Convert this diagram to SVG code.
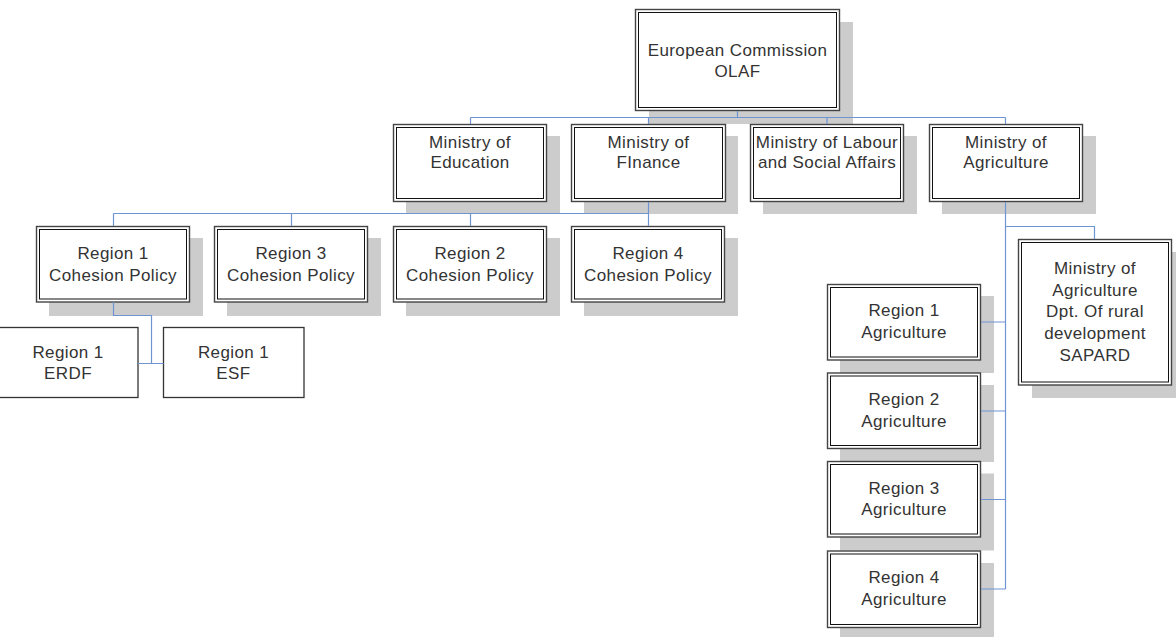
<svg xmlns="http://www.w3.org/2000/svg" width="1176" height="637" viewBox="0 0 1176 637">
<style>
.sh{fill:#cccccc}
.ob{fill:#fff;stroke:#444;stroke-width:1.4}
.ib{fill:none;stroke:#111;stroke-width:1}
.sb{fill:#fff;stroke:#333;stroke-width:1.3}
.t{font-family:"Liberation Sans",Arial,sans-serif;font-size:17px;fill:#333;text-anchor:middle;letter-spacing:0.4px}
.c{fill:none;stroke:#6f94d2;stroke-width:1.2}
</style>
<rect width="1176" height="637" fill="#fff"/>
<g id="ec">
<rect class="sh" x="649" y="22" width="204" height="102"/>
<rect class="ob" x="635.5" y="9.5" width="204" height="101"/>
<rect class="ib" x="638.5" y="12.5" width="198" height="95"/>
<text class="t" x="737.5" y="55.5">European Commission</text>
<text class="t" x="737.5" y="77">OLAF</text>
</g>
<g id="min-education">
<rect class="sh" x="406" y="136" width="154" height="78"/>
<rect class="ob" x="393.5" y="124.5" width="153" height="77"/>
<rect class="ib" x="396.5" y="127.5" width="147" height="71"/>
<text class="t" x="470" y="147.5">Ministry of</text>
<text class="t" x="470" y="167.5">Education</text>
</g>
<g id="min-finance">
<rect class="sh" x="584" y="136" width="154" height="78"/>
<rect class="ob" x="571.5" y="124.5" width="154" height="77"/>
<rect class="ib" x="574.5" y="127.5" width="148" height="71"/>
<text class="t" x="648.5" y="147.5">Ministry of</text>
<text class="t" x="648.5" y="167.5">FInance</text>
</g>
<g id="min-labour">
<rect class="sh" x="763" y="136" width="154" height="78"/>
<rect class="ob" x="750.5" y="124.5" width="153" height="77"/>
<rect class="ib" x="753.5" y="127.5" width="147" height="71"/>
<text class="t" x="827" y="147.5">Ministry of Labour</text>
<text class="t" x="827" y="167.5">and Social Affairs</text>
</g>
<g id="min-agriculture">
<rect class="sh" x="942" y="136" width="154" height="78"/>
<rect class="ob" x="929.5" y="124.5" width="153" height="77"/>
<rect class="ib" x="932.5" y="127.5" width="147" height="71"/>
<text class="t" x="1006" y="147.5">Ministry of</text>
<text class="t" x="1006" y="167.5">Agriculture</text>
</g>
<g id="r1-cohesion">
<rect class="sh" x="49" y="238" width="154" height="78"/>
<rect class="ob" x="36.5" y="226.5" width="153" height="75.5"/>
<rect class="ib" x="39.5" y="229.5" width="147" height="69.5"/>
<text class="t" x="113" y="259">Region 1</text>
<text class="t" x="113" y="280.5">Cohesion Policy</text>
</g>
<g id="r3-cohesion">
<rect class="sh" x="227" y="238" width="154" height="78"/>
<rect class="ob" x="214.5" y="226.5" width="153" height="75.5"/>
<rect class="ib" x="217.5" y="229.5" width="147" height="69.5"/>
<text class="t" x="291" y="259">Region 3</text>
<text class="t" x="291" y="280.5">Cohesion Policy</text>
</g>
<g id="r2-cohesion">
<rect class="sh" x="406" y="238" width="154" height="78"/>
<rect class="ob" x="393.5" y="226.5" width="153" height="75.5"/>
<rect class="ib" x="396.5" y="229.5" width="147" height="69.5"/>
<text class="t" x="470" y="259">Region 2</text>
<text class="t" x="470" y="280.5">Cohesion Policy</text>
</g>
<g id="r4-cohesion">
<rect class="sh" x="584" y="238" width="154" height="78"/>
<rect class="ob" x="571.5" y="226.5" width="153" height="75.5"/>
<rect class="ib" x="574.5" y="229.5" width="147" height="69.5"/>
<text class="t" x="648" y="259">Region 4</text>
<text class="t" x="648" y="280.5">Cohesion Policy</text>
</g>
<g id="r1-erdf">
<rect class="sb" x="-2" y="327.5" width="140" height="70"/>
<text class="t" x="68" y="357.5">Region 1</text>
<text class="t" x="68" y="379">ERDF</text>
</g>
<g id="r1-esf">
<rect class="sb" x="163.5" y="327.5" width="140.5" height="70"/>
<text class="t" x="233.5" y="357.5">Region 1</text>
<text class="t" x="233.5" y="379">ESF</text>
</g>
<g id="sapard">
<rect class="sh" x="1032" y="252" width="154" height="146"/>
<rect class="ob" x="1018.5" y="239.5" width="153" height="145.5"/>
<rect class="ib" x="1021.5" y="242.5" width="147" height="139.5"/>
<text class="t" x="1095" y="274">Ministry of</text>
<text class="t" x="1095" y="295.7">Agriculture</text>
<text class="t" x="1095" y="317.4">Dpt. Of rural</text>
<text class="t" x="1095" y="339.1">development</text>
<text class="t" x="1095" y="360.8">SAPARD</text>
</g>
<g id="r1-agri">
<rect class="sh" x="840" y="296" width="154" height="77"/>
<rect class="ob" x="827.5" y="284.5" width="153" height="75.5"/>
<rect class="ib" x="830.5" y="287.5" width="147" height="69.5"/>
<text class="t" x="904" y="316">Region 1</text>
<text class="t" x="904" y="337.7">Agriculture</text>
</g>
<g id="r2-agri">
<rect class="sh" x="840" y="385" width="154" height="77"/>
<rect class="ob" x="827.5" y="373" width="153" height="75.5"/>
<rect class="ib" x="830.5" y="376" width="147" height="69.5"/>
<text class="t" x="904" y="405">Region 2</text>
<text class="t" x="904" y="426.7">Agriculture</text>
</g>
<g id="r3-agri">
<rect class="sh" x="840" y="473.5" width="154" height="77"/>
<rect class="ob" x="827.5" y="461.5" width="153" height="75.5"/>
<rect class="ib" x="830.5" y="464.5" width="147" height="69.5"/>
<text class="t" x="904" y="493.5">Region 3</text>
<text class="t" x="904" y="515.2">Agriculture</text>
</g>
<g id="r4-agri">
<rect class="sh" x="840" y="563" width="154" height="77"/>
<rect class="ob" x="827.5" y="551" width="153" height="76.5"/>
<rect class="ib" x="830.5" y="554" width="147" height="70.5"/>
<text class="t" x="904" y="583">Region 4</text>
<text class="t" x="904" y="604.7">Agriculture</text>
</g>
<g id="connectors">
<path class="c" d="M737.5 111 V117.5 M470.5 117.5 H1005.5 M470.5 117.5 V124 M648.5 117.5 V124 M827 117.5 V124 M1005.5 117.5 V124"/>
<path class="c" d="M648.5 202 V226 M113.5 213.5 H648.5 M113.5 213.5 V226 M291.5 213.5 V226 M470.5 213.5 V226"/>
<path class="c" d="M1005.5 202 V589 M1005.5 226.5 H1094.5 V239 M981 322 H1005.5 M981 411 H1005.5 M981 499.5 H1005.5 M981 589 H1005.5"/>
<path class="c" d="M113.5 302 V315.5 H151.5 V363.5 M138 363.5 H163.5"/>
</g>
</svg>
